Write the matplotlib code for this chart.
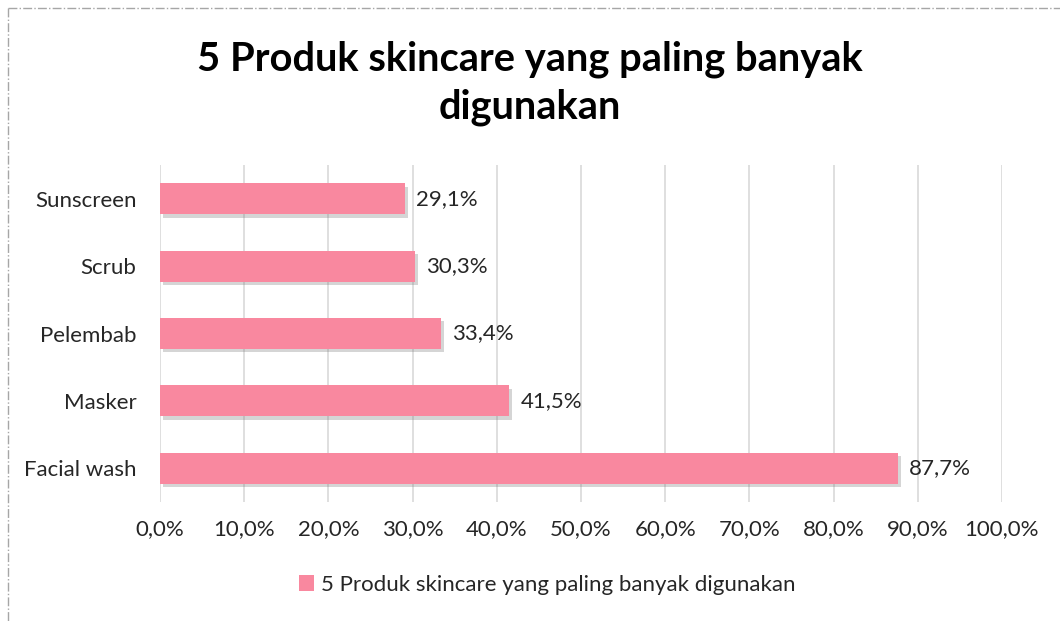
import matplotlib.pyplot as plt
import matplotlib.patheffects as pe
from matplotlib.lines import Line2D
from matplotlib.ticker import FuncFormatter

plt.rcParams['font.family'] = ['Lato', 'DejaVu Sans']

# data
produk = ['Facial wash', 'Masker', 'Pelembab', 'Scrub', 'Sunscreen']
persen = [87.7, 41.5, 33.4, 30.3, 29.1]
xticks = [0, 10, 20, 30, 40, 50, 60, 70, 80, 90, 100]
judul = '5 Produk skincare yang paling banyak\ndigunakan'
seri = '5 Produk skincare yang paling banyak digunakan'

warna = '#F9889F'
teks = '#262626'

fig = plt.figure(figsize=(10.6, 6.21), dpi=100)
ax = fig.add_axes([0.1509, 0.1916, 0.7943, 0.5427])

bars = ax.barh(produk, persen, height=0.46, color=warna, label=seri, zorder=3)
for b in bars:
    b.set_path_effects([pe.SimplePatchShadow(offset=(2, -2.5), shadow_rgbFace='#777777', alpha=0.3), pe.Normal()])

for y, v in enumerate(persen):
    ax.text(v + 1.3, y, f'{v:.1f}%'.replace('.', ','), va='center', ha='left', fontsize=16, color=teks)

ax.set_xlim(0, 100)
ax.set_ylim(-0.5, 4.5)
ax.set_xticks(xticks)
ax.xaxis.set_major_formatter(FuncFormatter(lambda v, p: f'{v:.1f}%'.replace('.', ',')))
ax.grid(axis='x', color='#D9D9D9', linewidth=1.2, zorder=0)
ax.tick_params(length=0, labelsize=16, labelcolor=teks)
ax.tick_params(axis='x', pad=12)
ax.tick_params(axis='y', pad=17)
for s in ax.spines.values():
    s.set_visible(False)

fig.text(0.5, 0.866, judul, ha='center', va='center', fontsize=28.7, fontweight='bold',
         color='black', linespacing=1.35)

leg = ax.legend(loc='center', bbox_to_anchor=(0.46, -0.246), frameon=False, fontsize=16,
                handlelength=0.7, handleheight=0.7, handletextpad=0.3, labelcolor=teks)
for h in leg.legend_handles:
    h.set_path_effects([])

# border (dash-dot)
fig.add_artist(Line2D([8/1060, 1], [1 - 8/621, 1 - 8/621], transform=fig.transFigure,
                      color='#A6A6A6', linestyle='-.', linewidth=1))
fig.add_artist(Line2D([8/1060, 8/1060], [1 - 8/621, 0], transform=fig.transFigure,
                      color='#A6A6A6', linestyle='-.', linewidth=1))

fig.savefig('out.png', dpi=100)
